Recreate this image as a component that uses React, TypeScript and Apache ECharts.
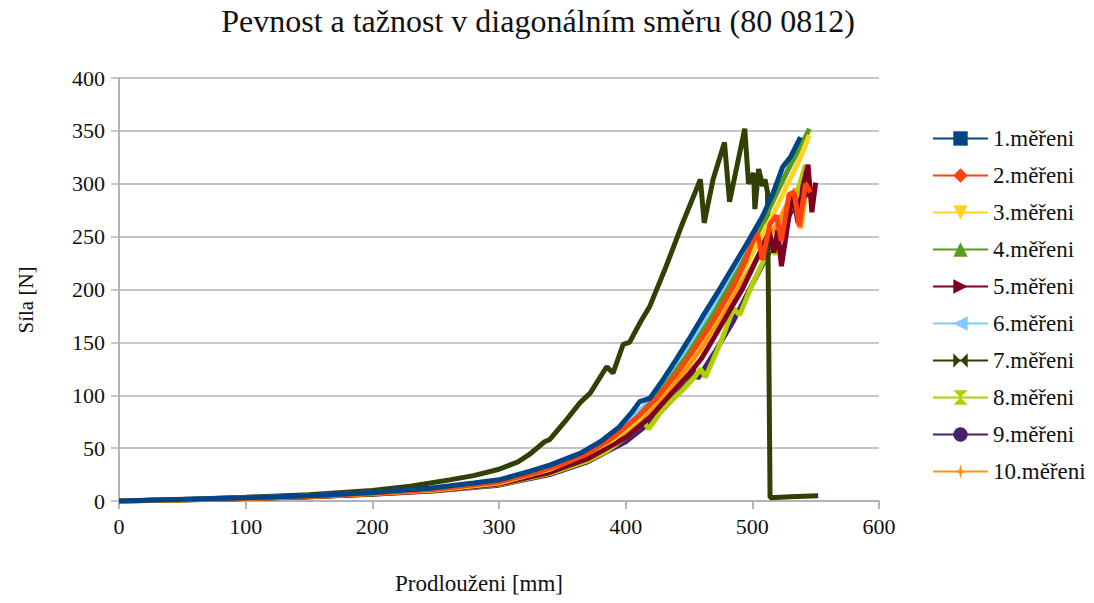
import React, { useEffect, useRef } from "react";
import * as echarts from "echarts";

const titleText = "Pevnost a tažnost v diagonálním směru (80 0812)";
const xName = "Prodlouženi [mm]";
const yName = "Síla [N]";
const seriesNames = ["1.měřeni", "2.měřeni", "3.měřeni", "4.měřeni", "5.měřeni", "6.měřeni", "7.měřeni", "8.měřeni", "9.měřeni", "10.měřeni"];
const seriesColors = ["#004586", "#ff420e", "#ffd320", "#579d1c", "#7e0021", "#83caff", "#314004", "#aecf00", "#4b1f6f", "#ff950e"];
const seriesSymbols = [
  "rect",
  "diamond",
  "path://M0,0 L10,0 L5,10 Z",
  "triangle",
  "path://M0,0 L10,5 L0,10 Z",
  "path://M10,0 L0,5 L10,10 Z",
  "path://M0,0 L10,5 L0,10 Z M20,0 L10,5 L20,10 Z",
  "path://M0,0 L10,0 L5,5 Z M0,10 L10,10 L5,5 Z",
  "circle",
  "path://M5,0 L6,4 L10,5 L6,6 L5,10 L4,6 L0,5 L4,4 Z",
];
const xTicks = { min: 0, max: 600, interval: 100 };
const yTicks = { min: 0, max: 400, interval: 50 };

const m1 = [[0,0],[30,1],[60,2],[100,3],[150,5],[200,8],[245,12],[280,17],[300,20],[324,28],[340,34],[364,45],[380,56],[395,70],[405,84],[411,94],[419,97],[428,112],[440,134],[450,153],[461,175],[473,198],[485,222],[497,246],[508,269],[516,290],[524,316],[530,325],[538,344]];
const m2 = [[0,0],[50,1.3],[100,2.7],[150,4.5],[200,7.3],[250,11],[300,18],[330,27],[350,35],[370,45],[390,60],[410,80],[425,98],[440,120],[455,145],[470,172],[485,203],[495,228],[500,245],[504,254],[508,228],[514,262],[519,270],[523,246],[529,290],[533,292],[537,260],[542,300],[546,292]];
const m3 = [[0,0],[50,1.2],[100,2.6],[150,4.4],[200,7],[250,10.5],[300,17],[340,30],[370,45],[390,58],[410,78],[430,104],[450,135],[470,170],[490,212],[505,245],[518,275],[528,300],[537,322],[545,346]];
const m4 = [[0,0],[50,1.3],[100,2.8],[150,4.6],[200,7.4],[250,11],[300,18],[340,31],[370,46],[390,60],[410,80],[430,107],[450,140],[470,178],[490,220],[505,255],[518,288],[530,318],[538,335],[545,352]];
const m5 = [[0,0],[50,1.1],[100,2.4],[150,4],[200,6.5],[250,10],[300,16],[340,27],[370,40],[400,60],[420,80],[437,103],[450,120],[460,135],[470,155],[482,180],[492,200],[500,220],[508,240],[513,256],[517,235],[520,256],[523,222],[528,262],[532,292],[536,263],[540,298],[544,318],[547,273],[550,301]];
const m6 = [[0,0],[50,1.4],[100,2.9],[150,4.8],[200,7.7],[250,11.5],[300,19],[340,32],[370,48],[400,72],[420,96],[440,128],[460,165],[480,207],[500,250],[515,283],[528,312],[540,340]];
const m7 = [[0,0],[50,1.5],[100,3.5],[150,6],[200,10],[230,14],[261,20],[280,24],[300,30],[315,37],[324,44],[336,56],[340,58],[352,75],[364,93],[372,102],[385,127],[390,121],[398,148],[403,150],[412,170],[419,184],[432,222],[445,263],[459,304],[462,263],[469,304],[478,339],[482,283],[494,352],[497,300],[501,310],[502,276],[505,314],[508,298],[510,304],[512,292],[514,3],[530,4],[552,5]];
const m8 = [[0,0],[50,1.1],[100,2.4],[150,4],[200,6.5],[250,10],[300,15.5],[340,26],[370,38],[385,47],[400,60],[410,70],[414,76],[418,68],[430,88],[445,105],[455,118],[459,125],[463,117],[475,150],[485,182],[490,176],[500,205],[510,230],[515,242],[518,233],[525,262],[535,290],[542,318]];
const m9 = [[0,0],[50,1],[100,2.3],[150,3.9],[200,6.3],[250,9.6],[300,15],[340,25],[370,37],[400,56],[420,75],[440,100],[450,113],[453,124],[457,116],[470,140],[485,170],[500,205],[512,232],[520,250],[530,272],[538,285],[545,292]];
const m10 = [[0,0],[50,1.2],[100,2.5],[150,4.2],[200,6.8],[250,10.3],[300,16],[340,28],[370,42],[400,63],[420,84],[440,112],[460,145],[480,185],[500,222],[512,248],[520,262],[528,282],[534,295],[538,258],[542,290],[546,296]];
const seriesData = [m1, m2, m3, m4, m5, m6, m7, m8, m9, m10];

const FONT = "Times New Roman";
const FONT2 = "Tinos";

export default function App() {
  const ref = useRef<HTMLDivElement>(null);
  useEffect(() => {
    document.body.style.margin = "0";
    const chart = echarts.init(ref.current!, null, { renderer: "svg" });
    const series = seriesNames
      .map((name, i) => ({
        name,
        type: "line",
        data: seriesData[i],
        symbol: seriesSymbols[i],
        showSymbol: false,
        color: seriesColors[i],
        lineStyle: { color: seriesColors[i], width: 5 },
        itemStyle: { color: seriesColors[i] },
        emphasis: { disabled: true },
      }))
      .reverse();
    chart.setOption({
      animation: false,
      backgroundColor: "#ffffff",
      textStyle: { fontFamily: FONT },
      title: {
        text: titleText,
        left: 533,
        top: 0,
        textAlign: "center",
        textStyle: { fontFamily: FONT, fontSize: 32, fontWeight: "normal", color: "#111" },
      },
      grid: { left: 119, top: 78, width: 760, height: 423, containLabel: false },
      legend: {
        orient: "vertical",
        left: 927,
        top: 122,
        itemWidth: 55,
        itemHeight: 18,
        itemGap: 14,
        data: seriesNames,
        textStyle: { fontFamily: FONT2, fontSize: 23, fontWeight: "normal", color: "#111" },
      },
      xAxis: {
        type: "value",
        min: xTicks.min,
        max: xTicks.max,
        interval: xTicks.interval,
        axisLine: { show: true, lineStyle: { color: "#b3b3b3", width: 2 } },
        axisTick: { show: true, length: 8, lineStyle: { color: "#b3b3b3", width: 2 } },
        splitLine: { show: false },
        axisLabel: { fontFamily: FONT, fontSize: 22, color: "#111", margin: 14 },
      },
      yAxis: {
        type: "value",
        min: yTicks.min,
        max: yTicks.max,
        interval: yTicks.interval,
        axisLine: { show: true, lineStyle: { color: "#b3b3b3", width: 2 } },
        axisTick: { show: true, length: 8, lineStyle: { color: "#b3b3b3", width: 1.5 } },
        splitLine: { show: true, lineStyle: { color: "#b3b3b3", width: 1.5 } },
        axisLabel: { fontFamily: FONT, fontSize: 22, color: "#111", margin: 14 },
      },
      graphic: [
        {
          type: "text",
          x: 479,
          y: 583,
          style: { text: xName, fontFamily: FONT2, fontSize: 23, fontWeight: "normal", fill: "#111", align: "center", verticalAlign: "middle" },
        },
        {
          type: "text",
          x: 26,
          y: 300,
          rotation: Math.PI / 2,
          style: { text: yName, fontFamily: FONT, fontSize: 21, fill: "#111", align: "center", verticalAlign: "middle" },
        },
      ],
      series,
    });
    return () => chart.dispose();
  }, []);
  return <div ref={ref} style={{ width: 1094, height: 603 }} />;
}
